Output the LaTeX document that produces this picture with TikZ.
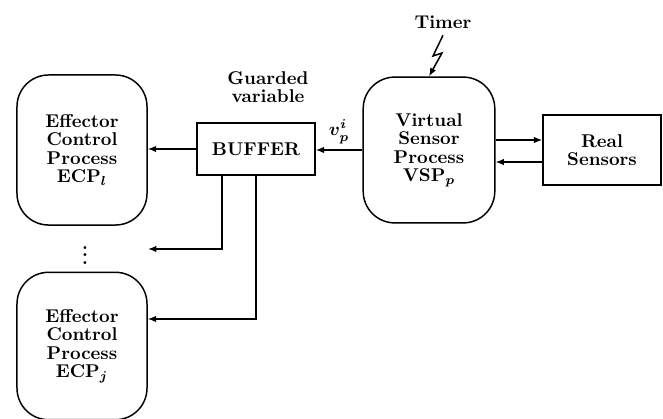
\documentclass[tikz,border=0pt]{standalone}
\usepackage{tikz}
\usetikzlibrary{arrows.meta}
\begin{document}
\begin{tikzpicture}[x=0.019cm,y=-0.019cm,line width=0.8pt,
    every node/.style={font=\bfseries\boldmath\fontsize{10}{10}\selectfont},
    proc/.style={draw, rounded corners=0.6cm, inner sep=0pt, align=center},
    box/.style={draw, inner sep=0pt, align=center},
    conn/.style={-{Latex[length=4.5pt,width=3.5pt]}}]
      \useasboundingbox (0,0) rectangle (663,418);
      \node[proc, minimum width=2.47cm, minimum height=2.85cm] (ecpl) at (82,150) {Effector\\Control\\Process\\ECP$_l$};
      \node[proc, minimum width=2.47cm, minimum height=2.8cm] (ecpj) at (82,346) {Effector\\Control\\Process\\ECP$_j$};
      \node[proc, minimum width=2.5cm, minimum height=2.77cm] (vsp) at (429,150) {Virtual\\Sensor\\Process\\VSP$_p$};
      \node[box, minimum width=2.24cm, minimum height=0.99cm] (buf) at (256,149) {BUFFER};
      \node[box, minimum width=2.24cm, minimum height=1.33cm] (real) at (602,150) {Real\\Sensors};
      \node[align=center] (guard) at (268,87) {Guarded\\variable};
      \node (timer) at (443,22) {Timer};
      \node[inner sep=0pt] (dots) at (85,250) {$\vdots$};
      \coordinate (dotsend) at (148,249);
      \draw[conn] (buf.west) -- (buf.west -| ecpl.east);
      \draw[conn] (vsp.west) -- node[above, inner sep=1pt, yshift=2pt]{$v_p^i$} (vsp.west -| buf.east);
      \draw[conn] (222,0 |- buf.south) |- (dotsend);
      \draw[conn] (buf.south) |- (ecpj.east |- 0,319);
      \draw[conn] (vsp.east |- 0,140) -- (real.west |- 0,140);
      \draw[conn] (real.west |- 0,162) -- (vsp.east |- 0,162);
      \draw[conn] (timer.south) -- (433,56) -- (442,53) -- (vsp.north);
    \end{tikzpicture}
\end{document}
